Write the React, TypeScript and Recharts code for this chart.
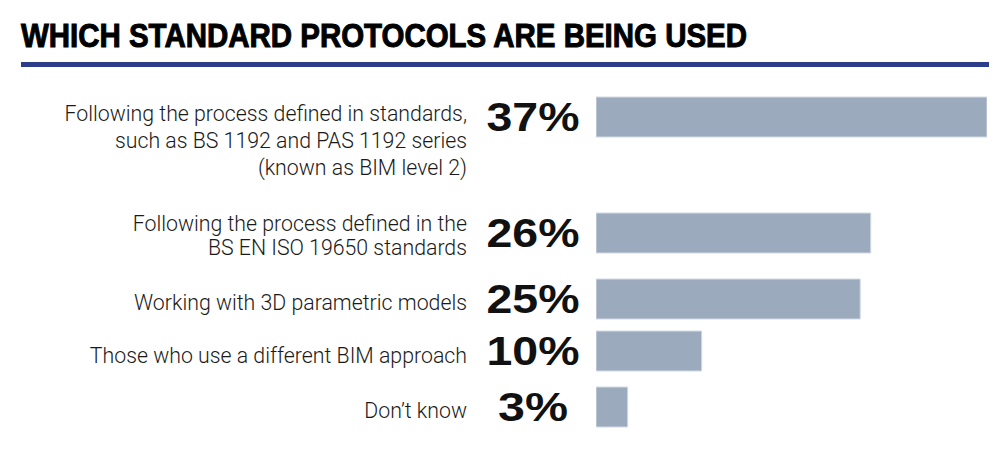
import React from "react";
import { BarChart, Bar, XAxis, YAxis } from "recharts";

const title = "WHICH STANDARD PROTOCOLS ARE BEING USED";

const categoryLines: string[][] = [
  [
    "Following the process defined in standards,",
    "such as BS 1192 and PAS 1192 series",
    "(known as BIM level 2)",
  ],
  ["Following the process defined in the", "BS EN ISO 19650 standards"],
  ["Working with 3D parametric models"],
  ["Those who use a different BIM approach"],
  ["Don\u2019t know"],
];

const values = [37, 26, 25, 10, 3];
const valueLabels = ["37%", "26%", "25%", "10%", "3%"];

// layout constants
const BAR_TOPS = [97, 213, 279, 331, 387];
const FIRST_BASELINE = [4, -2, 11, 12, 11];
const LINE_HEIGHTS = [27, 24, 0, 0, 0];
const PAD_TOP = 20;
const BAR_H = 40;
const ROW_H = 120;
const LABEL_RIGHT = 467;
const PCT_CENTER = 533;

function Row({ index }: { index: number }) {
  const data = [
    { name: categoryLines[index].join(" "), value: values[index] },
  ];
  const renderTick = (props: any) => {
    const { y } = props;
    const lines = categoryLines[index];
    const pct = valueLabels[index];
    return (
      <g>
        <text
          x={LABEL_RIGHT}
          y={y + FIRST_BASELINE[index]}
          textAnchor="end"
          fontFamily="Roboto"
          fontWeight={300}
          fontSize={21.3}
          fill="#1a1a1a"
        >
          {lines.map((l, k) => (
            <tspan key={k} x={LABEL_RIGHT} dy={k === 0 ? 0 : LINE_HEIGHTS[index]}>
              {l}
            </tspan>
          ))}
        </text>
        <text
          x={PCT_CENTER}
          y={y + 14}
          textAnchor="middle"
          fontFamily="Liberation Sans"
          fontWeight={700}
          fontSize={41}
          fill="#111"
          textLength={pct.length === 3 ? 93 : 70}
          lengthAdjust="spacingAndGlyphs"
        >
          {pct}
        </text>
      </g>
    );
  };
  return (
    <div style={{ position: "absolute", left: 0, top: BAR_TOPS[index] - PAD_TOP }}>
      <BarChart
        width={990}
        height={ROW_H}
        data={data}
        layout="vertical"
        margin={{ top: PAD_TOP, right: 3, bottom: ROW_H - PAD_TOP - BAR_H, left: 0 }}
        barCategoryGap={0}
      >
        <XAxis type="number" domain={[0, 37]} allowDataOverflow hide />
        <YAxis
          type="category"
          dataKey="name"
          width={596}
          axisLine={false}
          tickLine={false}
          interval={0}
          tick={renderTick}
        />
        <Bar
          dataKey="value"
          fill="#9caabd"
          stroke="#d3dae4"
          strokeWidth={1}
          isAnimationActive={false}
        />
      </BarChart>
    </div>
  );
}

export default function App() {
  return (
    <div
      style={{
        position: "absolute",
        left: 0,
        top: 0,
        width: 1006,
        height: 452,
        background: "#fff",
        overflow: "hidden",
      }}
    >
      <svg
        width={1006}
        height={60}
        style={{ position: "absolute", left: 0, top: 0 }}
      >
        <text
          x={21}
          y={46.5}
          fontFamily="Liberation Sans"
          fontWeight={700}
          fontSize={33}
          fill="#000"
          stroke="#000"
          strokeWidth={1}
          textLength={726}
          lengthAdjust="spacingAndGlyphs"
        >
          {title}
        </text>
      </svg>
      <div
        style={{
          position: "absolute",
          left: 21,
          top: 62,
          width: 968,
          height: 5,
          background: "#2c3d8c",
        }}
      />
      {values.map((_, i) => (
        <Row key={i} index={i} />
      ))}
    </div>
  );
}
